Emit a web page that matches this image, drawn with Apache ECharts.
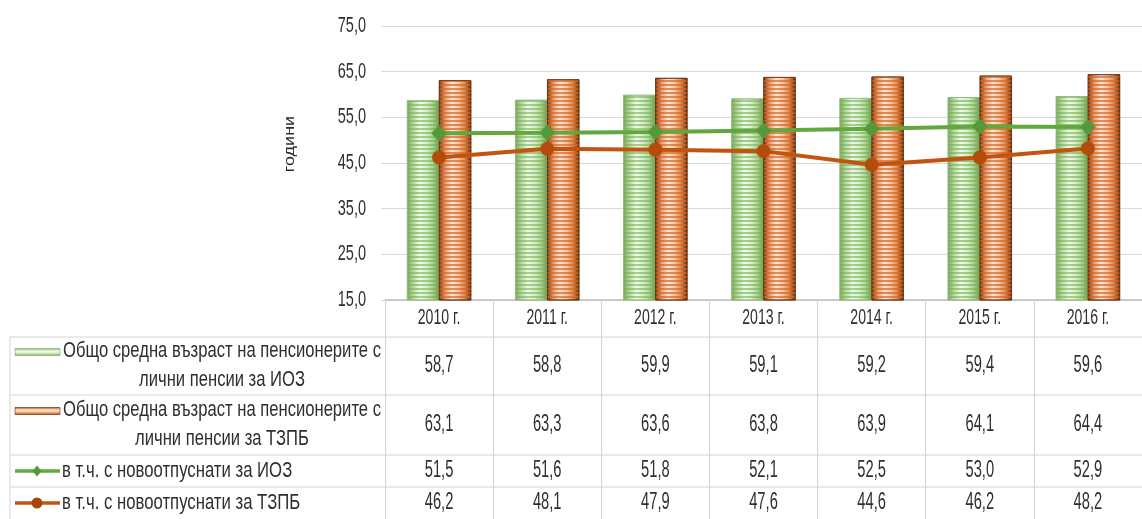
<!DOCTYPE html>
<html>
<head>
<meta charset="utf-8">
<script src="https://cdn.jsdelivr.net/npm/echarts@6/dist/echarts.min.js"></script>
<style>
  html, body { margin: 0; padding: 0; background: #fff; }
  #chart { width: 1142px; height: 519px; }
</style>
</head>
<body>
<div id="chart"></div>
<script>
// Average age of pensioners (years), 2010-2016
const years = ['2010 г.', '2011 г.', '2012 г.', '2013 г.', '2014 г.', '2015 г.', '2016 г.'];
const iozTotal = [58.7, 58.8, 59.9, 59.1, 59.2, 59.4, 59.6];
const tzpbTotal = [63.1, 63.3, 63.6, 63.8, 63.9, 64.1, 64.4];
const iozNew = [51.5, 51.6, 51.8, 52.1, 52.5, 53.0, 52.9];
const tzpbNew = [46.2, 48.1, 47.9, 47.6, 44.6, 46.2, 48.2];
const seriesNames = [
  'Общо средна възраст на пенсионерите с\nлични пенсии за ИОЗ',
  'Общо средна възраст на пенсионерите с\nлични пенсии за ТЗПБ',
  'в т.ч. с новоотпуснати за ИОЗ',
  'в т.ч. с новоотпуснати за ТЗПБ'
];
const yTicks = [15, 25, 35, 45, 55, 65, 75];
const yAxisName = 'години';

const FONT = '"Liberation Sans", Arial, sans-serif';
const NARROW = 0.64;               // condensed lettering
const TEXT = '#2f2f2f';
const RULE = '#d4d4d4';
const GREEN = '#62a83f';
const ORANGE = '#c2540f';

const fmt = v => v.toFixed(1).replace('.', ',');

// Cylinder-like horizontal shading for the bars
function shade(stops, vertical) {
  return {
    type: 'linear', x: 0, y: 0, x2: vertical ? 0 : 1, y2: vertical ? 1 : 0,
    colorStops: stops.map((c, i) => ({ offset: i / (stops.length - 1), color: c }))
  };
}
const greenStops = ['#7aa661', '#bcdba6', '#f0f8ea', '#dcefcf', '#b0d596', '#6c9a52'];
const orangeStops = ['#7a3208', '#eaa274', '#fde8d8', '#f6c6a2', '#e08b52', '#6a2a05'];
const greenFill = shade(greenStops);
const orangeFill = shade(orangeStops);
const stripes = color => ({
  symbol: 'rect', symbolSize: 1, rotation: 0,
  dashArrayX: [[10, 0]], dashArrayY: [2, 2], color: color
});

const chart = echarts.init(document.getElementById('chart'), null, { renderer: 'canvas' });

const option = {
  animation: false,
  backgroundColor: '#ffffff',
  grid: { left: 385, top: 26, width: 765, height: 274, containLabel: false },
  xAxis: {
    type: 'category',
    data: years,
    axisLine: { show: true, lineStyle: { color: '#bdbdbd', width: 1.5 } },
    axisTick: { show: true, length: 219, lineStyle: { color: RULE, width: 1 } },
    axisLabel: { show: false }
  },
  yAxis: {
    type: 'value',
    min: yTicks[0], max: yTicks[yTicks.length - 1], interval: yTicks[1] - yTicks[0],
    axisLine: { show: false },
    axisTick: { show: true, length: 4, lineStyle: { color: '#d9d9d9' } },
    splitLine: { lineStyle: { color: '#d9d9d9', width: 1 } },
    axisLabel: { show: false }
  },
  series: [
    {
      name: seriesNames[0], type: 'bar', data: iozTotal,
      barWidth: 32, barGap: '0%',
      itemStyle: { color: greenFill, borderColor: '#8fb877', borderWidth: 0.5,
        decal: stripes('rgba(115,178,80,0.6)') }
    },
    {
      name: seriesNames[1], type: 'bar', data: tzpbTotal,
      barWidth: 32, barGap: '0%',
      itemStyle: { color: orangeFill, borderColor: '#5e2504', borderWidth: 0.5,
        decal: stripes('rgba(212,102,36,0.7)') }
    },
    {
      name: seriesNames[2], type: 'line', data: iozNew, z: 5,
      symbol: 'diamond', symbolSize: 16,
      lineStyle: { color: GREEN, width: 4 },
      itemStyle: { color: '#56993a' }
    },
    {
      name: seriesNames[3], type: 'line', data: tzpbNew, z: 5,
      symbol: 'circle', symbolSize: 14,
      lineStyle: { color: ORANGE, width: 4 },
      itemStyle: { color: '#b44c0c' }
    }
  ]
};
chart.setOption(option);

const g = [];
function label(text, x, y, size, align, scale, extra) {
  g.push({
    type: 'text', x: x, y: y, scaleX: scale, silent: true,
    style: Object.assign({ text: text, fill: TEXT, font: size + 'px ' + FONT, align: align,
      verticalAlign: 'middle' }, extra || {})
  });
}

// Value axis labels
yTicks.forEach(v => label(fmt(v), 366, chart.convertToPixel({ yAxisIndex: 0 }, v), 22, 'right', 0.66));

// Data table under the plot: columns follow the category axis
const colX = years.map((_, i) => chart.convertToPixel({ xAxisIndex: 0 }, i));
const tableLeft = 10, tableRight = 1142;
const rowLines = [337, 395, 455, 487];
const rowMid = [366, 425, 471, 503];
const valueRows = [iozTotal, tzpbTotal, iozNew, tzpbNew];

rowLines.forEach(y => g.push({
  type: 'line', shape: { x1: tableLeft, y1: y, x2: tableRight, y2: y },
  style: { stroke: RULE, lineWidth: 1 }, silent: true
}));
g.push({ type: 'line', shape: { x1: tableLeft, y1: 337, x2: tableLeft, y2: 519 },
  style: { stroke: RULE, lineWidth: 1 }, silent: true });

years.forEach((y, i) => label(y, colX[i], 318, 22, 'center', NARROW));
valueRows.forEach((vals, r) => vals.forEach((v, i) => label(fmt(v), colX[i], rowMid[r], 23, 'center', NARROW)));

// Row headers with legend keys
const keyX1 = 15, keyX2 = 60, keyMid = 37;
[greenStops, orangeStops].forEach((stops, r) => {
  const y = r === 0 ? 352 : 411;
  g.push({ type: 'rect', shape: { x: keyX1, y: y - 3.5, width: keyX2 - keyX1, height: 7 }, silent: true,
    style: { fill: shade(stops, true), stroke: r === 0 ? '#7fa866' : '#6e2c06', lineWidth: 0.6 } });
  label(seriesNames[r], 222, rowMid[r] - 1, 22, 'center', 0.755, { lineHeight: 29 });
});
[[GREEN, 'diamond', '#56993a'], [ORANGE, 'circle', '#a8460b']].forEach((c, k) => {
  const r = k + 2, y = rowMid[r];
  g.push({ type: 'line', shape: { x1: keyX1, y1: y, x2: keyX2, y2: y }, silent: true,
    style: { stroke: c[0], lineWidth: 3.5 } });
  if (c[1] === 'circle') {
    g.push({ type: 'circle', shape: { cx: keyMid, cy: y, r: 5.5 }, silent: true, style: { fill: c[2] } });
  } else {
    g.push({ type: 'polygon', shape: { points: [[keyMid, y - 5.5], [keyMid + 4.5, y], [keyMid, y + 5.5], [keyMid - 4.5, y]] },
      silent: true, style: { fill: c[2] } });
  }
  label(seriesNames[r], 62, y, 22, 'left', 0.76);
});

// Axis title
g.push({ type: 'text', x: 290, y: 144, rotation: Math.PI / 2, scaleY: 0.8, silent: true,
  style: { text: yAxisName, fill: TEXT, font: '18px ' + FONT, align: 'center', verticalAlign: 'middle' } });

chart.setOption({ graphic: g });
</script>
</body>
</html>
